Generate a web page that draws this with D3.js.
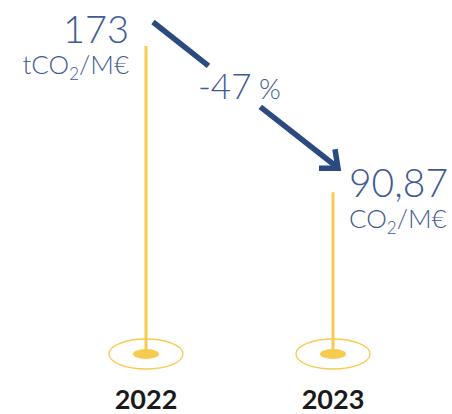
<!DOCTYPE html>
<html>
<head>
<meta charset="utf-8">
<script src="https://cdn.jsdelivr.net/npm/d3@7"></script>
<style>
  body { margin: 0; background: #fff; }
  svg { display: block; }
</style>
</head>
<body>
<div id="chart"></div>
<script>
const years = ["2022", "2023"];
const values = [173, 90.87];
const valueLabels = ["173", "90,87"];
const unitPrefix = ["tCO", "CO"];
const changeLabel = "-47";

const width = 452, height = 414;
const blue = "#3f5a96", navy = "#2a4a80", yellow = "#f7cb4f";

const x = d3.scalePoint().domain(years).range([146, 333]);
const y = d3.scaleLinear().domain([0, 173]).range([354, 46]);

const svg = d3.select("#chart").append("svg")
    .attr("width", width).attr("height", height);

// stems
svg.selectAll("line.stem").data(years).join("line")
    .attr("x1", d => x(d)).attr("x2", d => x(d))
    .attr("y1", (d, i) => y(values[i])).attr("y2", y(0))
    .attr("stroke", yellow).attr("stroke-width", 3);

// base ellipses
svg.selectAll("ellipse.ring").data(years).join("ellipse")
    .attr("cx", d => x(d)).attr("cy", y(0))
    .attr("rx", 37).attr("ry", 15)
    .attr("fill", "none").attr("stroke", yellow).attr("stroke-width", 1.3);
svg.selectAll("ellipse.dot").data(years).join("ellipse")
    .attr("cx", d => x(d)).attr("cy", y(0))
    .attr("rx", 13).attr("ry", 5)
    .attr("fill", yellow);

// year labels
svg.selectAll("text.year").data(years).join("text")
    .attr("x", d => x(d)).attr("y", 409)
    .attr("text-anchor", "middle")
    .attr("font-family", "Lato, sans-serif").attr("font-weight", 700)
    .attr("font-size", 27).attr("fill", "#1a1a1a")
    .text(d => d);

// value labels
const font = "Lato, sans-serif";
svg.append("text")
    .attr("x", x(years[0]) - 17).attr("y", y(values[0]) - 3)
    .attr("text-anchor", "end").attr("font-family", font).attr("font-weight", 300)
    .attr("font-size", 38).attr("fill", blue).text(valueLabels[0]);
svg.append("text")
    .attr("x", x(years[1]) + 16).attr("y", y(values[1]) + 5)
    .attr("text-anchor", "start").attr("font-family", font).attr("font-weight", 300)
    .attr("font-size", 39).attr("fill", blue).text(valueLabels[1]);

function unit(xPos, yPos, anchor, prefix) {
    const tx = svg.append("text")
        .attr("x", xPos).attr("y", yPos).attr("text-anchor", anchor)
        .attr("font-family", font).attr("font-weight", 300)
        .attr("font-size", 26).attr("fill", blue);
    tx.append("tspan").text(prefix);
    tx.append("tspan").attr("font-size", 17).attr("dy", 6).text("2");
    tx.append("tspan").attr("dy", -6).text("/M€");
}
unit(x(years[0]) - 17, y(values[0]) + 28, "end", unitPrefix[0]);
unit(x(years[1]) + 16, y(values[1]) + 36, "start", unitPrefix[1]);

// arrow
const p0 = [x(years[0]) + 7, y(values[0]) - 24];
const p1 = [x(years[1]) + 5, y(values[1]) - 24];
const at = t => [p0[0] + (p1[0] - p0[0]) * t, p0[1] + (p1[1] - p0[1]) * t];
const a = at(0.3), b = at(0.58);
svg.append("line").attr("x1", p0[0]).attr("y1", p0[1]).attr("x2", a[0]).attr("y2", a[1])
    .attr("stroke", navy).attr("stroke-width", 5.5);
svg.append("line").attr("x1", b[0]).attr("y1", b[1]).attr("x2", p1[0] - 2).attr("y2", p1[1] - 2)
    .attr("stroke", navy).attr("stroke-width", 5.5);
svg.append("path")
    .attr("d", `M${p1[0] - 19},${p1[1]} L${p1[0]},${p1[1]} L${p1[0] - 3},${p1[1] - 19}`)
    .attr("fill", "none").attr("stroke", navy).attr("stroke-width", 5.5)
    .attr("stroke-linejoin", "miter");

// change label
const mid = at(0.44);
const ct = svg.append("text")
    .attr("x", mid[0] + 5).attr("y", mid[1] + 13)
    .attr("text-anchor", "middle").attr("font-family", font).attr("font-weight", 300)
    .attr("fill", blue);
ct.append("tspan").attr("font-size", 35).text(changeLabel);
ct.append("tspan").attr("font-size", 28).text(" %");
</script>
</body>
</html>
